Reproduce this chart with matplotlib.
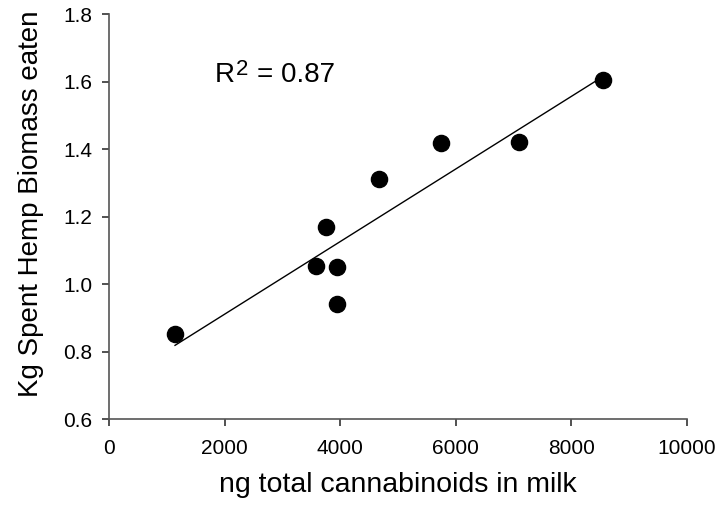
import numpy as np
import matplotlib
matplotlib.use("Agg")
import matplotlib.pyplot as plt
from matplotlib.transforms import offset_copy

plt.rcParams['font.family'] = ['Liberation Sans', 'DejaVu Sans']

# values
cannabinoids = [1142, 3576, 3939, 3939, 3749, 4677, 5739, 7088, 8553]
biomass = [0.853, 1.053, 1.051, 0.942, 1.170, 1.311, 1.418, 1.421, 1.604]
xticks = [0, 2000, 4000, 6000, 8000, 10000]
yticks = [0.6, 0.8, 1.0, 1.2, 1.4, 1.6, 1.8]

x = np.array(cannabinoids)
y = np.array(biomass)
slope, intercept = np.polyfit(x, y, 1)
xfit = np.array([x.min(), x.max()])

fig = plt.figure(figsize=(7.23, 5.08), dpi=100)
ax = fig.add_axes([0.1508, 0.175, 0.7992, 0.797])

ax.plot(xfit, slope * xfit + intercept, color='black', lw=1.0, zorder=2)
ax.scatter(x, y, s=135, color='black', zorder=3, clip_on=False)

ax.set_xlim(0, 10000)
ax.set_ylim(0.6, 1.8)
ax.set_xticks(xticks)
ax.set_yticks(yticks)
ax.set_yticklabels([f'{v:.1f}' for v in yticks])

for side in ['top', 'right']:
    ax.spines[side].set_visible(False)
for side in ['left', 'bottom']:
    ax.spines[side].set_color('#555555')
    ax.spines[side].set_linewidth(1.2)
ax.tick_params(direction='out', length=5, width=1.2, color='#333333',
               labelsize=15)
ax.tick_params(axis='x', pad=9.5)
ax.tick_params(axis='y', pad=7)

ax.set_xlabel('ng total cannabinoids in milk', fontsize=20.5, labelpad=10)
ax.set_ylabel('Kg Spent Hemp Biomass eaten', fontsize=20)
ax.yaxis.set_label_coords(-0.112, 0.531)

# R squared label, superscript drawn nearly full size as in the reference
tx, ty = 1834, 1.6
ax.text(tx, ty, 'R', fontsize=20, ha='left', va='baseline')
ax.text(tx, ty, '2', fontsize=16, ha='left', va='baseline',
        transform=offset_copy(ax.transData, fig=fig, x=21, y=7, units='dots'))
ax.text(tx, ty, '= 0.87', fontsize=20, ha='left', va='baseline',
        transform=offset_copy(ax.transData, fig=fig, x=42, y=0, units='dots'))

fig.savefig('out.png', dpi=100)
